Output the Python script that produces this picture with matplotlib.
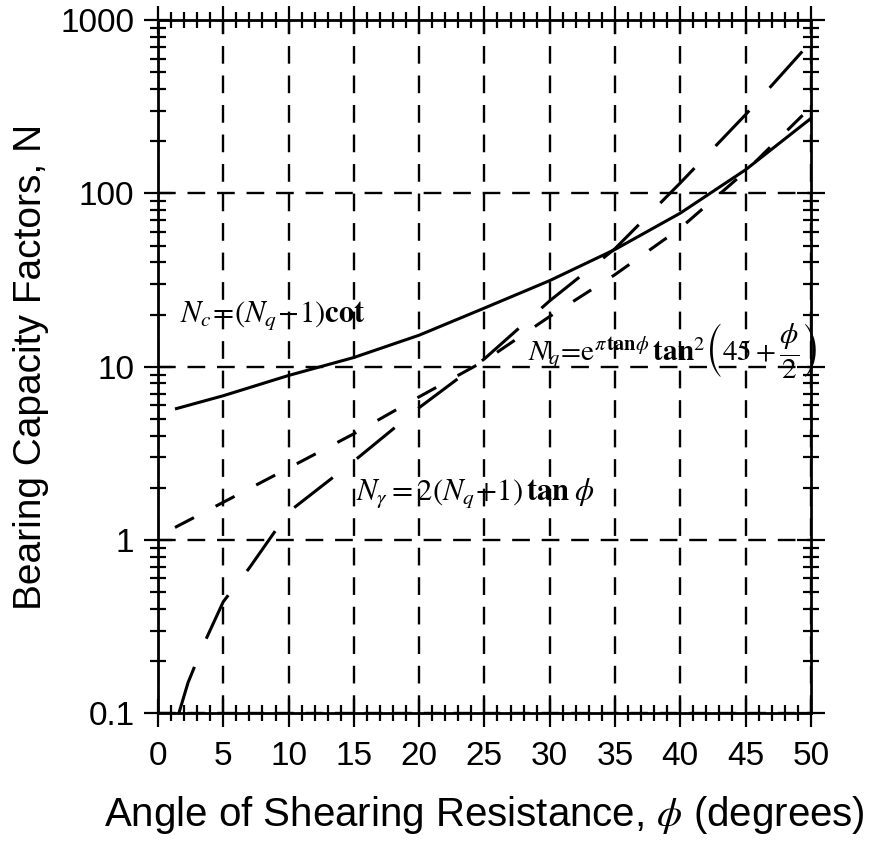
import matplotlib
matplotlib.use("Agg")
import matplotlib.pyplot as plt
from matplotlib.ticker import LogLocator, MultipleLocator, NullFormatter

plt.rcParams['font.family'] = ['Liberation Sans', 'DejaVu Sans']
plt.rcParams['mathtext.fontset'] = 'stix'

# bearing capacity factors read at selected friction angles
phi_c = [1.3, 5, 10, 15, 20, 25, 30, 35, 40, 45, 50]
nc = [5.7, 6.8, 8.9, 11.3, 15.2, 21.8, 31.4, 47.5, 77, 137, 271]

phi_q = [1.3, 5, 10, 15, 20, 25, 30, 35, 40, 45, 50]
nq = [1.18, 1.65, 2.6, 4.1, 6.7, 10.8, 19.5, 34, 63, 134, 315]

phi_g = [1.6, 2.3, 3.5, 5, 7, 10, 15, 20, 25, 30, 35, 40, 45, 50]
ng = [0.1, 0.15, 0.25, 0.44, 0.69, 1.45, 2.85, 5.8, 11.1, 24, 48, 115, 285, 750]

xticks = [0, 5, 10, 15, 20, 25, 30, 35, 40, 45, 50]
yticks = [0.1, 1, 10, 100, 1000]
ytick_labels = ["0.1", "1", "10", "100", "1000"]

fig = plt.figure(figsize=(8.7, 8.43), dpi=100)
ax = fig.add_axes([0.1816, 0.154, 0.7504, 0.822])

ax.plot(phi_c, nc, color='black', lw=2.2, solid_capstyle='butt')
ax.plot(phi_q, nq, color='black', lw=2.2, linestyle=(0, (7, 8)), dash_capstyle='butt')
ax.plot(phi_g, ng, color='black', lw=2.2, linestyle=(0, (16, 10)), dash_capstyle='butt')

ax.set_yscale('log')
ax.set_xlim(0, 50)
ax.set_ylim(0.1, 1000)
ax.set_xticks(xticks)
ax.set_xticklabels([str(t) for t in xticks])
ax.set_yticks(yticks)
ax.set_yticklabels(ytick_labels)
ax.xaxis.set_minor_locator(MultipleLocator(1))
ax.yaxis.set_minor_locator(LogLocator(base=10, subs=range(2, 10)))
ax.yaxis.set_minor_formatter(NullFormatter())

ax.tick_params(which='both', direction='inout', top=True, right=True,
               width=1.6, labelsize=24)
ax.tick_params(which='major', length=20)
ax.tick_params(which='minor', length=12)
ax.tick_params(axis='x', which='major', pad=10)
ax.tick_params(axis='y', which='major', pad=7)
for s in ax.spines.values():
    s.set_linewidth(2)

ax.grid(True, which='major', color='black', lw=1.7, linestyle=(0, (7.5, 5)))

ax.set_xlabel(r"Angle of Shearing Resistance, $\phi$ (degrees)", fontsize=29, labelpad=16)
ax.set_ylabel("Bearing Capacity Factors, N", fontsize=28, labelpad=8)

ax.text(1.7, 19.7, r"$N_c\!=\!\left(N_q\!-\!1\right)\mathbf{cot}$",
        fontsize=22, ha='left', va='center')
ax.text(28.3, 12.3, r"$N_q\!=\!\mathrm{e}^{\pi\,\mathbf{tan}\phi}\,\mathbf{tan}^2\left(45+\dfrac{\phi}{2}\right)$",
        fontsize=21, ha='left', va='center')
ax.text(15.2, 1.85, r"$N_\gamma = 2\left(N_q\!+\!1\right)\,\mathbf{tan}\;\phi$",
        fontsize=22, ha='left', va='center')

fig.savefig("out.png", dpi=100)
